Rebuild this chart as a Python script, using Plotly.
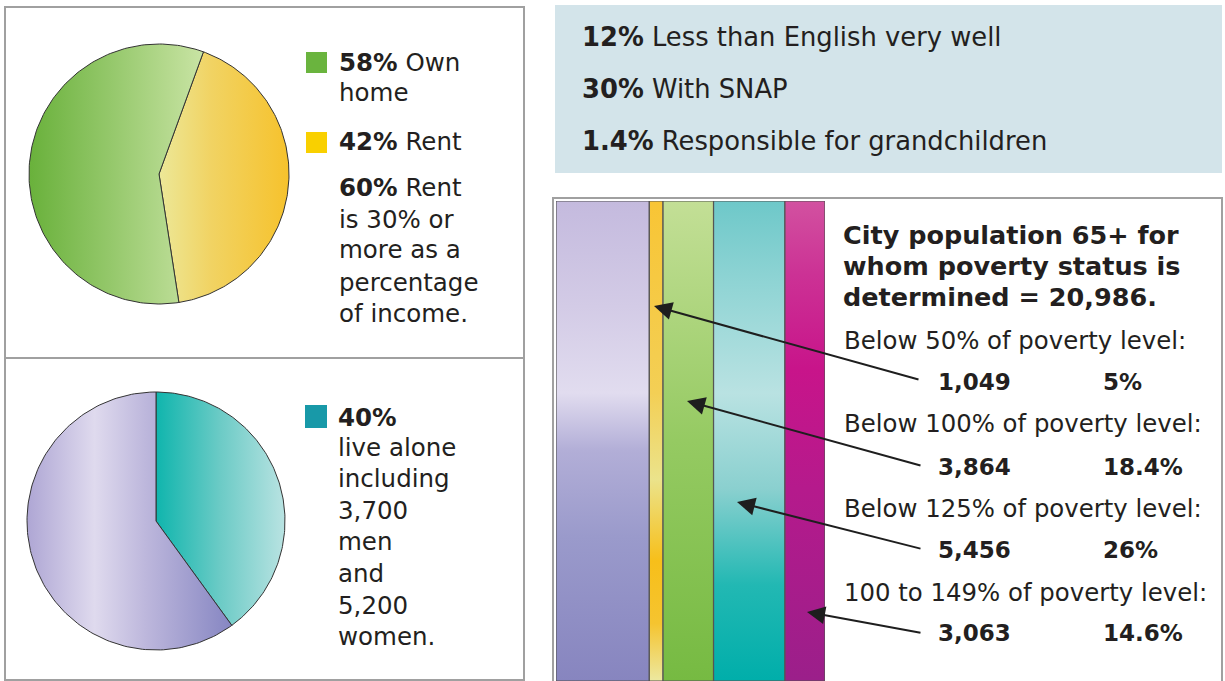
import numpy as np
import plotly.graph_objects as go

W, H = 1225, 681

# ---------------- data ----------------
tenure_labels = ["Rent", "Own home"]
tenure_values = [42, 58]
tenure_rotation = 20  # degrees clockwise from 12 o'clock where "Rent" begins

alone_labels = ["Live alone", "Do not live alone"]
alone_values = [40, 60]
alone_rotation = 0

poverty_segments = ["Remainder", "Below 50%", "Below 100%", "Below 125%", "100 to 149%"]
poverty_shares = [34, 5, 18.4, 26, 14.6]

fact_values = ["12%", "30%", "1.4%"]
fact_labels = ["Less than English very well", "With SNAP", "Responsible for grandchildren"]

tenure_legend_lines = [("<b>58%</b> Own", 62), ("home", 93), ("<b>42%</b> Rent", 141),
                       ("<b>60%</b> Rent", 187), ("is 30% or", 219), ("more as a", 250),
                       ("percentage", 282), ("of income.", 313)]
alone_legend_lines = [("<b>40%</b>", 417), ("live alone", 447), ("including", 478), ("3,700", 510),
                      ("men", 541), ("and", 573), ("5,200", 605), ("women.", 636)]

title_lines = ["City population 65+ for", "whom poverty status is", "determined = 20,986."]
poverty_rows = ["Below 50% of poverty level:", "Below 100% of poverty level:",
                "Below 125% of poverty level:", "100 to 149% of poverty level:"]
poverty_counts = ["1,049", "3,864", "5,456", "3,063"]
poverty_pcts = ["5%", "18.4%", "26%", "14.6%"]

# ---------------- styles ----------------
FONT = "DejaVu Sans"
TXT = "#231f20"
tenure_scales = [
    [[0, "#ece898"], [0.4, "#f1d363"], [1, "#f6c22c"]],            # Rent
    [[0, "#69b13b"], [0.45, "#93c769"], [1, "#c9e4a4"]],           # Own
]
alone_scales = [
    [[0, "#0fb5ad"], [0.5, "#6ccbc6"], [1, "#b9e3e2"]],            # live alone
    [[0, "#aea6d4"], [0.33, "#dfdaee"], [0.58, "#bdb7dc"], [1, "#8686c2"]],
]
bar_scales = [
    [[0, "#8785bf"], [0.3, "#9a9acb"], [0.48, "#b2aed7"], [0.6, "#e1dcef"], [0.78, "#d3cbe6"], [1, "#c4bade"]],
    [[0, "#ece8a0"], [0.12, "#f5c430"], [0.25, "#f7bf1a"], [0.42, "#ebe38b"], [0.6, "#f3cf55"], [1, "#f8c535"]],
    [[0, "#76ba42"], [0.5, "#95ca62"], [1, "#c3df96"]],
    [[0, "#00aeaa"], [0.2, "#22b8b3"], [0.4, "#8ad0cf"], [0.6, "#b9e2e2"], [0.8, "#95d6d6"], [1, "#6ec8c9"]],
    [[0, "#9b1f8a"], [0.4, "#b51a8c"], [0.65, "#c8148a"], [0.85, "#cc3295"], [1, "#d251a0"]],
]


def fx(x):
    return x / W


def fy(y):
    return 1 - y / H


def wedge(start_deg, share, n=160):
    t = np.radians(np.linspace(start_deg, start_deg + share * 3.6, n))
    xs = np.concatenate([[0], np.sin(t), [0]])
    ys = np.concatenate([[0], np.cos(t), [0]])
    return xs, ys


fig = go.Figure()

# pie 1 (tenure)
start = tenure_rotation
for lab, val, cs in zip(tenure_labels, tenure_values, tenure_scales):
    xs, ys = wedge(start, val)
    fig.add_trace(go.Scatter(x=xs, y=ys, mode="lines", fill="toself", name=lab,
                             fillgradient=dict(type="horizontal", colorscale=cs),
                             line=dict(color="#333333", width=1), hoverinfo="skip",
                             xaxis="x", yaxis="y"))
    start += val * 3.6

# pie 2 (living alone)
start = alone_rotation
for lab, val, cs in zip(alone_labels, alone_values, alone_scales):
    xs, ys = wedge(start, val)
    fig.add_trace(go.Scatter(x=xs, y=ys, mode="lines", fill="toself", name=lab,
                             fillgradient=dict(type="horizontal", colorscale=cs),
                             line=dict(color="#333333", width=1), hoverinfo="skip",
                             xaxis="x2", yaxis="y2"))
    start += val * 3.6

# stacked poverty bars
x0 = 0.0
for lab, w, cs in zip(poverty_segments, poverty_shares, bar_scales):
    x1 = x0 + w
    fig.add_trace(go.Scatter(x=[x0, x1, x1, x0, x0], y=[0, 0, 1, 1, 0], mode="lines",
                             fill="toself", name=lab,
                             fillgradient=dict(type="vertical", colorscale=cs),
                             line=dict(color="#555555", width=1.2), hoverinfo="skip",
                             xaxis="x3", yaxis="y3"))
    x0 = x1


def pie_axes(cx, cy, r, pad=1.03):
    return (dict(domain=[fx(cx - r * pad), fx(cx + r * pad)], range=[-pad, pad], visible=False),
            dict(domain=[fy(cy + r * pad), fy(cy - r * pad)], range=[-pad, pad], visible=False))


xa1, ya1 = pie_axes(159, 174, 130)
xa2, ya2 = pie_axes(156, 521, 129)
ya1["anchor"] = "x"
xa1["anchor"] = "y"
xa2["anchor"] = "y2"
ya2["anchor"] = "x2"

shapes = [
    dict(type="rect", xref="paper", yref="paper", x0=fx(5), x1=fx(524), y0=fy(358), y1=fy(7),
         line=dict(color="#a0a0a0", width=2), fillcolor="rgba(0,0,0,0)", layer="below"),
    dict(type="rect", xref="paper", yref="paper", x0=fx(5), x1=fx(524), y0=fy(680), y1=fy(358),
         line=dict(color="#a0a0a0", width=2), fillcolor="rgba(0,0,0,0)", layer="below"),
    dict(type="rect", xref="paper", yref="paper", x0=fx(555), x1=fx(1222), y0=fy(173), y1=fy(5),
         line=dict(width=0), fillcolor="#d3e4ea", layer="below"),
    dict(type="rect", xref="paper", yref="paper", x0=fx(553), x1=fx(1222), y0=fy(690), y1=fy(198),
         line=dict(color="#a0a0a0", width=2), fillcolor="rgba(0,0,0,0)", layer="below"),
    # legend swatches
    dict(type="rect", xref="paper", yref="paper", x0=fx(306), x1=fx(327), y0=fy(73), y1=fy(52),
         line=dict(width=0), fillcolor="#6ab43e"),
    dict(type="rect", xref="paper", yref="paper", x0=fx(306), x1=fx(327), y0=fy(153), y1=fy(132),
         line=dict(width=0), fillcolor="#f9d000"),
    dict(type="rect", xref="paper", yref="paper", x0=fx(305), x1=fx(327), y0=fy(428), y1=fy(405),
         line=dict(width=0), fillcolor="#1899a8"),
]

ann = []


def txt(x, y, s, size=24, anchor="left"):
    ann.append(dict(x=fx(x), y=fy(y), xref="paper", yref="paper", text=s, showarrow=False,
                    xanchor=anchor, yanchor="middle", font=dict(family=FONT, size=size, color=TXT)))


for s, y in tenure_legend_lines:
    txt(337, y, s, 24.5)
for s, y in alone_legend_lines:
    txt(336, y, s, 24.5)

for v, lab, y in zip(fact_values, fact_labels, [37, 89, 141]):
    txt(580, y, f"<b>{v}</b> {lab}", 25.8)

for s, y in zip(title_lines, [235, 266, 297]):
    txt(841, y, f"<b>{s}</b>", 25.5)

row_y = [340, 423, 508, 592]
num_y = [382, 467, 550, 633]
for r, c, p, y1, y2 in zip(poverty_rows, poverty_counts, poverty_pcts, row_y, num_y):
    txt(842, y1, r, 24.4)
    txt(936, y2, f"<b>{c}</b>", 23)
    txt(1101, y2, f"<b>{p}</b>", 23)

arrows = [((654, 306), (920, 380)), ((687, 401), (922, 466)),
          ((737, 502), (922, 549)), ((807, 612), (922, 633))]
for (tx, ty), (sx, sy) in arrows:
    ann.append(dict(x=fx(tx), y=fy(ty), xref="paper", yref="paper", ax=sx - tx, ay=sy - ty,
                    axref="pixel", ayref="pixel", text="", showarrow=True, arrowhead=2,
                    arrowsize=1.8, arrowwidth=2, arrowcolor="#1e1e1e", standoff=0))

fig.update_layout(
    width=W, height=H, margin=dict(l=0, r=0, t=0, b=0),
    paper_bgcolor="white", plot_bgcolor="rgba(0,0,0,0)", showlegend=False,
    xaxis=xa1, yaxis=ya1, xaxis2=xa2, yaxis2=ya2,
    xaxis3=dict(domain=[fx(556), fx(825)], range=[0, sum(poverty_shares)], visible=False, anchor="y3"),
    yaxis3=dict(domain=[0, fy(201)], range=[0, 1], visible=False, anchor="x3"),
    shapes=shapes, annotations=ann,
)

fig.write_html("out.html", config={"displayModeBar": False},
               post_script="document.body.style.margin='0';document.body.style.overflow='hidden';")
